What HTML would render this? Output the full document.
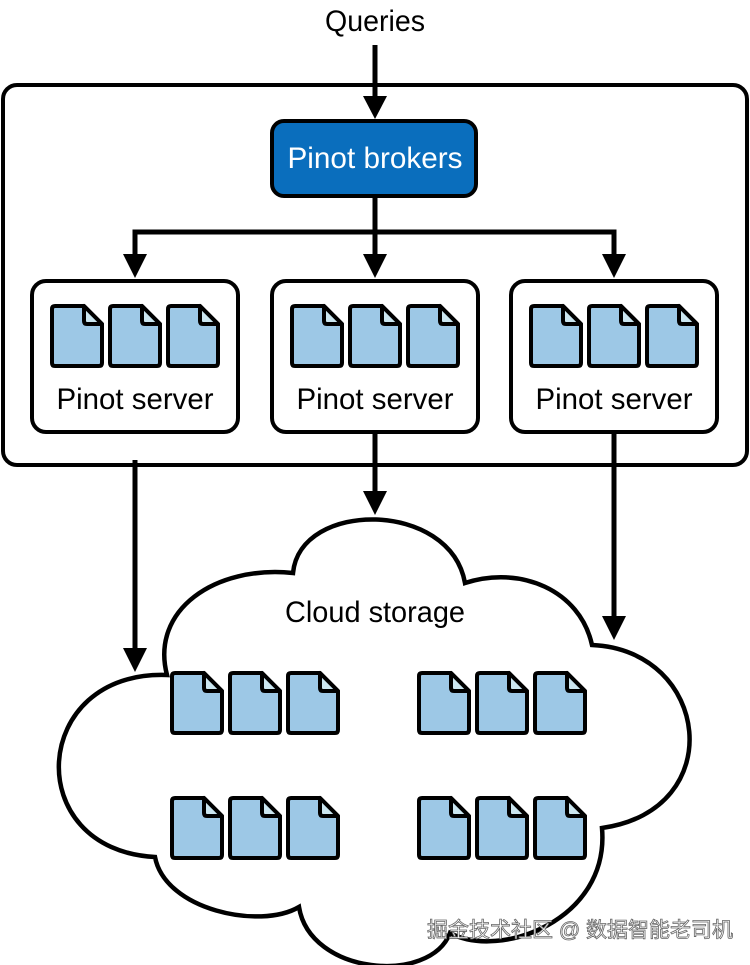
<!DOCTYPE html>
<html><head><meta charset="utf-8"><style>html,body{margin:0;padding:0;background:#fff}svg{display:block}</style></head>
<body>
<svg width="750" height="965" viewBox="0 0 750 965" xmlns="http://www.w3.org/2000/svg">
<defs>
<g id="f">
<path d="M3 0 H32 L50 18 V57 Q50 60 47 60 H3 Q0 60 0 57 V3 Q0 0 3 0 Z" fill="#9dc8e6" stroke="#000" stroke-width="4" stroke-linejoin="round"/>
<path d="M32 0 V15 Q32 18 35 18 H50 Z" fill="#cbe6f0" stroke="#000" stroke-width="4" stroke-linejoin="round"/>
</g>
<g id="f3"><use href="#f" x="0"/><use href="#f" x="58"/><use href="#f" x="116"/></g>
</defs>
<g font-family="'Liberation Sans Narrow','Liberation Sans',sans-serif">
<text x="375" y="31" font-size="30" text-anchor="middle" textLength="100" lengthAdjust="spacingAndGlyphs">Queries</text>
<rect x="3" y="85" width="744" height="380" rx="14" fill="#fff" stroke="#000" stroke-width="4"/>
<line x1="375" y1="45" x2="375" y2="100" stroke="#000" stroke-width="5"/>
<polygon points="363,96 387,96 375,119" fill="#000"/>
<rect x="272" y="121" width="204" height="75" rx="12" fill="#0a6ebd" stroke="#000" stroke-width="4"/>
<text x="375" y="168" font-size="30" fill="#fff" text-anchor="middle" textLength="175" lengthAdjust="spacingAndGlyphs">Pinot brokers</text>
<line x1="375" y1="196" x2="375" y2="258" stroke="#000" stroke-width="5"/>
<polyline points="135,258 135,232 614,232 614,258" fill="none" stroke="#000" stroke-width="5"/>
<polygon points="123,254 147,254 135,278" fill="#000"/>
<polygon points="363,254 387,254 375,278" fill="#000"/>
<polygon points="602,254 626,254 614,278" fill="#000"/>
<rect x="32" y="281" width="206" height="151" rx="14" fill="#fff" stroke="#000" stroke-width="4"/>
<rect x="272" y="281" width="206" height="151" rx="14" fill="#fff" stroke="#000" stroke-width="4"/>
<rect x="511" y="281" width="206" height="151" rx="14" fill="#fff" stroke="#000" stroke-width="4"/>
<use href="#f3" x="52" y="306"/><use href="#f3" x="292" y="306"/><use href="#f3" x="531" y="306"/>
<text x="135" y="409" font-size="30" text-anchor="middle" textLength="157" lengthAdjust="spacingAndGlyphs">Pinot server</text>
<text x="375" y="409" font-size="30" text-anchor="middle" textLength="157" lengthAdjust="spacingAndGlyphs">Pinot server</text>
<text x="614" y="409" font-size="30" text-anchor="middle" textLength="157" lengthAdjust="spacingAndGlyphs">Pinot server</text>
<line x1="135" y1="460" x2="135" y2="652" stroke="#000" stroke-width="5"/>
<polygon points="123,648 147,648 135,672" fill="#000"/>
<line x1="375" y1="432" x2="375" y2="495" stroke="#000" stroke-width="5"/>
<polygon points="363,491 387,491 375,515" fill="#000"/>
<line x1="614" y1="432" x2="614" y2="620" stroke="#000" stroke-width="5"/>
<polygon points="602,616 626,616 614,640" fill="#000"/>
<path d="M167 675 C150 610, 215 565, 293 573 C300 500, 450 500, 465 583 C520 565, 580 590, 592 645 C710 650, 730 810, 602 828 C610 920, 500 960, 450 933 C430 985, 310 975, 299 907 C260 930, 165 910, 155 857 C20 850, 30 670, 167 675 Z" fill="#fff" stroke="#000" stroke-width="4.5"/>
<text x="375" y="622" font-size="30" text-anchor="middle" textLength="180" lengthAdjust="spacingAndGlyphs">Cloud storage</text>
<use href="#f3" x="172" y="673"/><use href="#f3" x="419" y="673"/>
<use href="#f3" x="172" y="798"/><use href="#f3" x="419" y="798"/>
<text x="580" y="937" font-size="21" fill="#fff" stroke="#666" stroke-width="0.8" text-anchor="middle" font-family="'Liberation Sans','Noto Sans CJK SC',sans-serif">掘金技术社区 @ 数据智能老司机</text>
</g>
</svg>
</body></html>
